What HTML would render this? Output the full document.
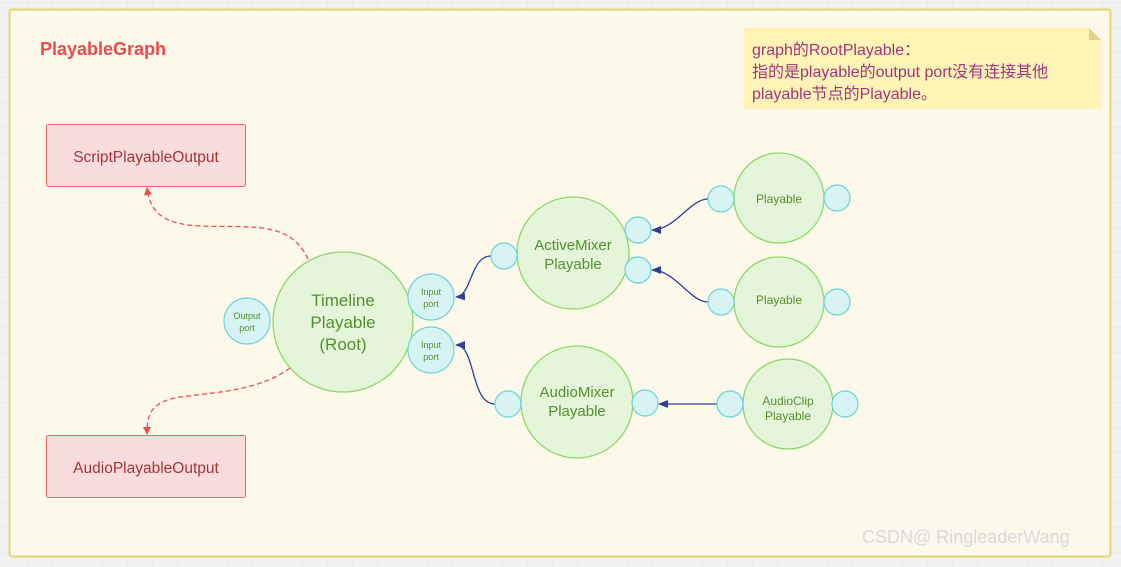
<!DOCTYPE html>
<html><head><meta charset="utf-8"><style>
html,body{margin:0;padding:0;width:1121px;height:567px;overflow:hidden;background:#f0f1f3;}
svg{display:block}
text{font-family:"Liberation Sans","Noto Sans CJK SC",sans-serif;}
</style></head><body>
<svg width="1121" height="567" viewBox="0 0 1121 567" xmlns="http://www.w3.org/2000/svg">
<defs>
<pattern id="g" width="25" height="25" patternUnits="userSpaceOnUse" x="3" y="3">
<path d="M25 0V25H0" fill="none" stroke="#e2e4e8" stroke-width="1"/>
</pattern>
<marker id="ab" markerWidth="10" markerHeight="8" refX="9" refY="4" orient="auto" markerUnits="userSpaceOnUse"><path d="M0,0 L10,4 L0,8 Z" fill="#2e3f9c"/></marker>
<marker id="ar" markerWidth="8" markerHeight="10" refX="7" refY="4" orient="auto" markerUnits="userSpaceOnUse"><path d="M0,0 L8,4 L0,8 Z" fill="#e85050"/></marker>
</defs>
<rect width="1121" height="567" fill="url(#g)"/>
<rect x="9.5" y="9.5" width="1101" height="547" rx="3" fill="#fcf8ea" stroke="#e6d36c" stroke-width="2"/>
<text x="40" y="55" font-size="18" font-weight="bold" fill="#e84c4c">PlayableGraph</text>

<!-- note -->
<path d="M744 28 H1089 L1101 40 V109 H744 Z" fill="#fff4b6"/>
<path d="M1089 28 L1101 40 H1089 Z" fill="#e3d28a"/>
<g font-size="16" fill="#a2357e">
<text x="752" y="55">graph的RootPlayable：</text>
<text x="752" y="77">指的是playable的output port没有连接其他</text>
<text x="752" y="99">playable节点的Playable。</text>
</g>

<!-- output boxes -->
<rect x="46.5" y="124.5" width="199" height="62" rx="2" fill="#f9dcdc" stroke="#e8686b"/>
<text x="146" y="162" font-size="15.5" fill="#a4353a" text-anchor="middle">ScriptPlayableOutput</text>
<rect x="46.5" y="435.5" width="199" height="62" rx="2" fill="#f9dcdc" stroke="#e8686b"/>
<text x="146" y="473" font-size="15.5" fill="#a4353a" text-anchor="middle">AudioPlayableOutput</text>

<!-- red dashed -->
<path d="M308 259 C290 220 250 228 200 226 C160 224 150 210 147 188" fill="none" stroke="#e85050" stroke-width="1.3" stroke-dasharray="5,3" marker-end="url(#ar)"/>
<path d="M290 368 C260 390 220 392 180 397 C150 402 147 415 147 434" fill="none" stroke="#e85050" stroke-width="1.3" stroke-dasharray="5,3" marker-end="url(#ar)"/>

<!-- blue connectors -->
<g fill="none" stroke="#2e3f9c" stroke-width="1.3">
<path d="M491 256 C470 256 472 296 456 297" marker-end="url(#ab)"/>
<path d="M495 404 C470 404 476 345 456 345" marker-end="url(#ab)"/>
<path d="M708 199 C690 199 675 230 652 230" marker-end="url(#ab)"/>
<path d="M708 302 C690 302 675 270 652 270" marker-end="url(#ab)"/>
<path d="M717 404 L659 404" marker-end="url(#ab)"/>
</g>

<!-- big circles -->
<g fill="#e5f5da" stroke="#8ed86a" stroke-width="1.3">
<circle cx="343" cy="322" r="70"/>
<circle cx="573" cy="253" r="56"/>
<circle cx="577" cy="402" r="56"/>
<circle cx="779" cy="198" r="45"/>
<circle cx="779" cy="302" r="45"/>
<circle cx="788" cy="404" r="45"/>
</g>
<!-- ports -->
<g fill="#d8f3f3" stroke="#6ad3db" stroke-width="1.2">
<circle cx="247" cy="321" r="23"/>
<circle cx="431" cy="297" r="23"/>
<circle cx="431" cy="350" r="23"/>
<circle cx="504" cy="256" r="13"/>
<circle cx="638" cy="230" r="13"/>
<circle cx="638" cy="270" r="13"/>
<circle cx="721" cy="199" r="13"/>
<circle cx="837" cy="198" r="13"/>
<circle cx="721" cy="302" r="13"/>
<circle cx="837" cy="302" r="13"/>
<circle cx="508" cy="404" r="13"/>
<circle cx="645" cy="403" r="13"/>
<circle cx="730" cy="404" r="13"/>
<circle cx="845" cy="404" r="13"/>
</g>

<g fill="#54902e" text-anchor="middle">
<text x="343" y="306" font-size="17">Timeline</text>
<text x="343" y="328" font-size="17">Playable</text>
<text x="343" y="350" font-size="17">(Root)</text>
<text x="573" y="250" font-size="15">ActiveMixer</text>
<text x="573" y="269" font-size="15">Playable</text>
<text x="577" y="397" font-size="15">AudioMixer</text>
<text x="577" y="416" font-size="15">Playable</text>
<text x="779" y="203" font-size="12">Playable</text>
<text x="779" y="304" font-size="12">Playable</text>
<text x="788" y="405" font-size="12">AudioClip</text>
<text x="788" y="420" font-size="12">Playable</text>
<g font-size="9">
<text x="247" y="319">Output</text><text x="247" y="331">port</text>
<text x="431" y="295">Input</text><text x="431" y="307">port</text>
<text x="431" y="348">Input</text><text x="431" y="360">port</text>
</g>
</g>

<text x="862" y="543" font-size="18" fill="#d9d9d9">CSDN@ RingleaderWang</text>
</svg>
</body></html>
